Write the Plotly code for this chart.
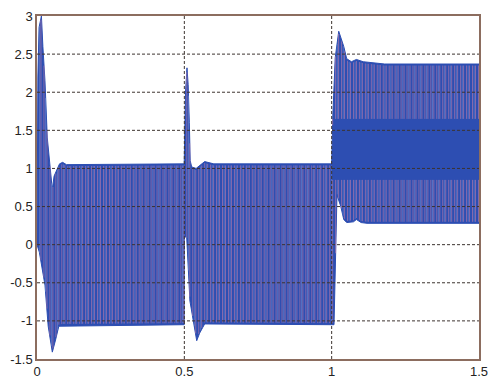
import numpy as np
import plotly.graph_objects as go

# Upper and lower envelope of the oscillating signal (time in s, amplitude)
upper_t = [0.0, 0.003, 0.007, 0.015, 0.020, 0.027, 0.035, 0.040, 0.052, 0.058, 0.0765, 0.087, 0.10, 0.4995,
           0.5, 0.504, 0.509, 0.513, 0.517, 0.520, 0.525, 0.540, 0.569, 0.60, 0.9995,
           1.0, 1.004, 1.012, 1.024, 1.041, 1.051, 1.067, 1.084, 1.107, 1.18, 1.5]
upper_v = [0.0, 2.2, 2.85, 3.0, 2.6, 2.15, 1.4, 1.2, 0.72, 0.9, 1.06, 1.08, 1.05, 1.06,
           1.06, 2.0, 2.32, 2.1, 1.6, 1.1, 1.02, 1.0, 1.09, 1.06, 1.06,
           1.06, 1.7, 2.45, 2.8, 2.6, 2.44, 2.40, 2.43, 2.40, 2.37, 2.37]

lower_t = [0.0, 0.008, 0.027, 0.038, 0.052, 0.063, 0.074, 0.087, 0.4995,
           0.5, 0.502, 0.508, 0.519, 0.542, 0.552, 0.569, 0.9995,
           1.0, 1.008, 1.018, 1.031, 1.041, 1.051, 1.074, 1.084, 1.10, 1.12, 1.5]
lower_v = [0.0, -0.1, -0.53, -1.07, -1.41, -1.25, -1.07, -1.06, -1.05,
           0.1, 0.1, 0.1, -0.74, -1.26, -1.16, -1.04, -1.05,
           -1.05, -1.05, 0.65, 0.5, 0.33, 0.29, 0.30, 0.33, 0.29, 0.28, 0.28]

x_ticks = [0, 0.5, 1, 1.5]
x_labels = ["0", "0.5", "1", "1.5"]
y_ticks = [-1.5, -1, -0.5, 0, 0.5, 1, 1.5, 2, 2.5, 3]
y_labels = ["-1.5", "-1", "-0.5", "0", "0.5", "1", "1.5", "2", "2.5", "3"]

BLUE = "#2d4eb2"
PINK = "#e58aa8"
LIGHT = "#7f98d8"
FRAME = "#8c6d5f"
GRID = "#3d3430"

fig = go.Figure()

# solid band between the envelopes
band_x = list(upper_t) + list(reversed(lower_t))
band_y = list(upper_v) + list(reversed(lower_v))
fig.add_trace(go.Scatter(x=band_x, y=band_y, fill="toself", fillcolor=BLUE,
                         mode="lines", line=dict(color=BLUE, width=1),
                         hoverinfo="skip", showlegend=False))

# rendering texture: thin light stripes of the dense oscillation
def stripes(t0, step, t_end, color, width, opacity, split=False):
    xs, ys = [], []
    for t in np.arange(t0, t_end, step):
        hi = float(np.interp(t, upper_t, upper_v))
        lo = float(np.interp(t, lower_t, lower_v))
        if split and t > 1.0:
            xs += [t, t, None, t, t, None]
            ys += [hi - 0.02, 1.65, None, 0.85, lo + 0.02, None]
        else:
            xs += [t, t, None]
            ys += [hi - 0.02, lo + 0.02, None]
    fig.add_trace(go.Scatter(x=xs, y=ys, mode="lines",
                             line=dict(color=color, width=width),
                             opacity=opacity, hoverinfo="skip", showlegend=False))

stripes(0.009, 0.0202, 1.5, LIGHT, 0.8, 0.6, split=True)
stripes(0.0135, 0.0101, 1.5, PINK, 0.8, 0.6, split=True)

axis_common = dict(showline=True, linecolor=FRAME, linewidth=1.5, mirror=True,
                   ticks="", zeroline=False, showgrid=False,
                   tickfont=dict(family="Liberation Sans, Arial", size=13, color="#222"))

fig.update_xaxes(range=[0, 1.5], tickvals=x_ticks, ticktext=x_labels, **axis_common)
fig.update_yaxes(range=[-1.5, 3], tickvals=y_ticks, ticktext=y_labels, **axis_common)

# dashed grid lines drawn over the signal
for xv in x_ticks[1:-1]:
    fig.add_shape(type="line", x0=xv, x1=xv, y0=-1.5, y1=3, xref="x", yref="y",
                  line=dict(color=GRID, width=1, dash="3px,2px"), layer="above")
for yv in y_ticks[1:-1]:
    fig.add_shape(type="line", x0=0, x1=1.5, y0=yv, y1=yv, xref="x", yref="y",
                  line=dict(color=GRID, width=1, dash="3px,2px"), layer="above")

fig.update_layout(width=497, height=388, margin=dict(l=37, r=9, t=11, b=21),
                  plot_bgcolor="white", paper_bgcolor="white")

fig.write_html("out.html")
